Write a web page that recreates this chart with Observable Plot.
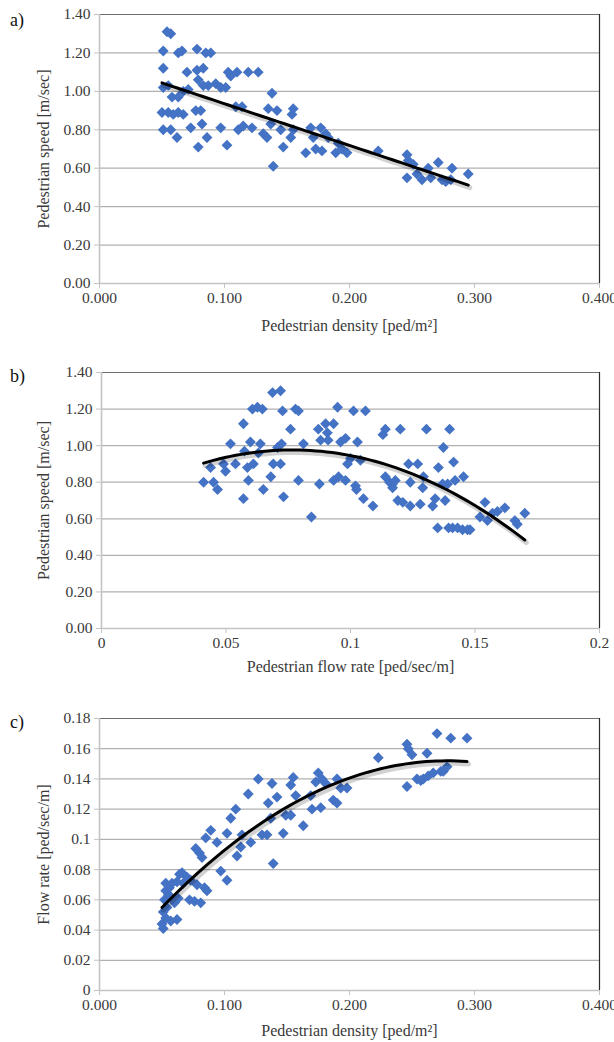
<!DOCTYPE html>
<html>
<head>
<meta charset="utf-8">
<script src="https://cdn.jsdelivr.net/npm/d3@7"></script>
<script src="https://cdn.jsdelivr.net/npm/@observablehq/plot@0.6"></script>
<style>
  html, body { margin: 0; padding: 0; background: #fff; }
  #wrap { position: relative; width: 614px; height: 1042px; overflow: hidden; font-family: "Liberation Serif", serif; }
  .panel { position: absolute; left: 0; width: 614px; }
  .tag { position: absolute; left: 10px; font-size: 18px; color: #111; font-family: "Liberation Serif", serif; }
  #wrap svg, #wrap svg text { font-family: "Liberation Serif", serif !important; }
</style>
</head>
<body>
<div id="wrap">
  <div class="panel" id="pa" style="top:0px"></div>
  <div class="panel" id="pb" style="top:345px"></div>
  <div class="panel" id="pc" style="top:690px"></div>
  <div class="tag" style="top:10px">a)</div>
  <div class="tag" style="top:366px">b)</div>
  <div class="tag" style="top:712px">c)</div>
</div>
<script>
// ---------- Panel a: density vs speed ----------
const densityA = [0.051,0.054,0.057,0.063,0.066,0.078,0.085,0.089,
  0.051,0.070,0.078,0.083,0.103,0.110,0.119,0.127,
  0.051,0.055,0.067,0.071,0.079,0.083,0.087,0.093,0.097,0.101,0.105,0.138,
  0.050,0.055,0.059,0.063,0.067,0.077,0.081,0.058,0.063,0.109,0.114,0.135,0.142,0.155,0.154,
  0.051,0.057,0.062,0.073,0.082,0.086,0.079,0.097,0.102,0.111,0.115,0.122,0.131,0.134,0.137,0.147,0.145,0.153,0.155,0.139,
  0.165,0.169,0.171,0.173,0.177,0.178,0.181,0.183,0.189,0.191,0.194,0.198,0.223,
  0.246,0.247,0.251,0.246,0.254,0.258,0.263,0.265,0.271,0.274,0.277,0.281,0.282,0.295];
const speedA = [1.21,1.31,1.30,1.20,1.21,1.22,1.20,1.20,
  1.12,1.10,1.11,1.12,1.10,1.10,1.10,1.10,
  1.02,1.03,1.00,1.01,1.06,1.03,1.03,1.04,1.02,1.02,1.08,0.99,
  0.89,0.89,0.88,0.89,0.88,0.90,0.90,0.97,0.97,0.92,0.92,0.91,0.90,0.91,0.88,
  0.80,0.80,0.76,0.81,0.83,0.76,0.71,0.81,0.72,0.80,0.82,0.81,0.78,0.76,0.83,0.71,0.80,0.76,0.80,0.61,
  0.68,0.81,0.76,0.70,0.81,0.69,0.78,0.76,0.68,0.73,0.70,0.68,0.69,
  0.67,0.64,0.62,0.55,0.57,0.54,0.60,0.55,0.63,0.54,0.53,0.54,0.60,0.57];

// ---------- Panel b: flow rate vs speed ----------
const flowB = [0.041,0.0438,0.045,0.0466,0.049,0.0498,0.0518,0.0538,0.057,0.057,0.0574,0.0586,0.059,0.0598,0.061,
  0.0606,0.0626,0.0646,0.0638,0.063,0.065,0.068,0.0687,0.0719,0.069,0.0719,0.0707,0.0723,0.0731,0.0727,
  0.0759,0.0779,0.0791,0.0791,0.0811,0.0843,0.0871,0.088,0.0875,0.090,0.0907,0.091,0.0932,0.0932,0.0948,
  0.0952,0.096,0.098,0.098,0.0988,0.100,0.1012,0.102,0.1024,0.1028,0.104,0.1052,0.106,0.109,0.113,
  0.114,0.114,0.1157,0.1169,0.1169,0.118,0.119,0.120,0.121,0.1233,0.124,0.124,0.127,0.128,0.129,
  0.1293,0.1305,0.133,0.134,0.135,0.1353,0.137,0.1373,0.138,0.139,0.1394,0.1398,0.141,0.1414,0.142,
  0.143,0.145,0.1454,0.147,0.148,0.152,0.154,0.155,0.157,0.159,0.162,0.166,0.167,0.170];
const speedB = [0.80,0.88,0.80,0.76,0.90,0.86,1.01,0.90,0.71,1.12,0.97,0.88,0.81,1.02,0.90,
  1.20,1.21,1.20,1.01,0.96,0.76,0.83,1.29,1.30,0.90,0.90,0.99,1.01,0.72,1.19,
  1.09,1.20,1.19,0.81,1.01,0.61,1.09,1.03,0.79,1.12,1.07,1.03,1.12,0.81,1.21,
  0.83,1.02,1.04,0.81,0.90,0.93,1.19,0.78,0.76,1.02,0.92,0.71,1.19,0.67,1.06,
  1.09,0.83,0.80,0.79,0.77,0.81,0.70,1.09,0.69,0.90,0.80,0.67,0.90,0.68,0.77,
  0.83,1.09,0.67,0.71,0.55,0.88,0.79,0.99,0.70,0.79,0.55,1.09,0.55,0.91,0.81,
  0.55,0.54,0.83,0.54,0.54,0.61,0.69,0.59,0.63,0.64,0.66,0.59,0.57,0.63];

// ---------- Panel c: density vs flow rate ----------
const densityC = [0.051,0.050,0.053,0.057,0.062,0.051,0.054,0.052,0.055,0.057,0.053,0.056,0.053,0.058,0.062,
  0.066,0.064,0.067,0.070,0.073,0.076,0.078,0.081,0.084,0.086,0.063,0.060,0.072,
  0.077,0.080,0.082,0.085,0.089,0.094,0.097,0.102,0.102,0.105,0.109,0.110,0.113,0.114,0.119,0.121,
  0.127,0.130,0.134,0.137,0.138,0.139,0.135,0.142,0.147,0.149,0.153,0.153,0.155,0.157,0.163,
  0.169,0.170,0.173,0.175,0.177,0.178,0.181,0.187,0.190,0.190,0.193,0.198,
  0.223,0.246,0.247,0.250,0.246,0.254,0.257,0.259,0.262,0.263,0.267,0.270,0.273,0.275,0.278,0.281,0.294];
const flowC = [0.041,0.044,0.048,0.046,0.047,0.052,0.055,0.060,0.063,0.062,0.066,0.068,0.071,0.071,0.072,
  0.078,0.077,0.071,0.075,0.073,0.059,0.070,0.058,0.068,0.066,0.061,0.058,0.060,
  0.094,0.091,0.088,0.101,0.106,0.098,0.079,0.073,0.104,0.114,0.120,0.089,0.095,0.103,0.130,0.098,
  0.140,0.103,0.103,0.114,0.137,0.084,0.124,0.128,0.104,0.116,0.116,0.136,0.141,0.129,0.109,
  0.129,0.120,0.138,0.144,0.121,0.140,0.137,0.126,0.124,0.140,0.134,0.134,
  0.154,0.163,0.160,0.156,0.135,0.140,0.139,0.140,0.157,0.142,0.144,0.170,0.145,0.145,0.148,0.167,0.167];

// ---------- Axis ticks and labels ----------
const densityTicks = [0, 0.1, 0.2, 0.3, 0.4];
const densityLabels = ["0.000", "0.100", "0.200", "0.300", "0.400"];
const flowTicks = [0, 0.05, 0.1, 0.15, 0.2];
const flowLabels = ["0", "0.05", "0.1", "0.15", "0.2"];
const speedTicks = [0, 0.2, 0.4, 0.6, 0.8, 1.0, 1.2, 1.4];
const speedLabels = ["0.00", "0.20", "0.40", "0.60", "0.80", "1.00", "1.20", "1.40"];
const flowYTicks = [0, 0.02, 0.04, 0.06, 0.08, 0.1, 0.12, 0.14, 0.16, 0.18];
const flowYLabels = ["0", "0.02", "0.04", "0.06", "0.08", "0.1", "0.12", "0.14", "0.16", "0.18"];

const titleDensity = "Pedestrian density [ped/m²]";
const titleSpeed = "Pedestrian speed [m/sec]";
const titleFlowX = "Pedestrian flow rate [ped/sec/m]";
const titleFlowY = "Flow rate [ped/sec/m]";

const FONT = "Liberation Serif";

// least-squares polynomial fit (trend line like the spreadsheet's)
function polyfit(xs, ys, deg) {
  const n = deg + 1;
  const A = Array.from({length: n}, () => new Array(n + 1).fill(0));
  for (let k = 0; k < xs.length; k++) {
    for (let i = 0; i < n; i++) {
      for (let j = 0; j < n; j++) A[i][j] += Math.pow(xs[k], i + j);
      A[i][n] += ys[k] * Math.pow(xs[k], i);
    }
  }
  for (let i = 0; i < n; i++) {
    let p = i;
    for (let r = i + 1; r < n; r++) if (Math.abs(A[r][i]) > Math.abs(A[p][i])) p = r;
    [A[i], A[p]] = [A[p], A[i]];
    for (let r = 0; r < n; r++) {
      if (r === i) continue;
      const f = A[r][i] / A[i][i];
      for (let c = i; c <= n; c++) A[r][c] -= f * A[i][c];
    }
  }
  return A.map((row, i) => row[n] / row[i]);
}
function trend(xs, ys, deg) {
  const coef = polyfit(xs, ys, deg);
  const [lo, hi] = d3.extent(xs);
  return d3.range(0, 61).map(i => {
    const x = lo + (hi - lo) * i / 60;
    return {x, y: coef.reduce((s, c, k) => s + c * Math.pow(x, k), 0)};
  });
}

const labelFmt = (ticks, labels) => d => labels[ticks.findIndex(t => Math.abs(t - d) < 1e-9)];

function panel({xs, ys, deg, xDomain, yDomain, xTicks, xLabels, yTicks, yLabels, xTitle, yTitle,
                height, marginTop, marginBottom, marginLeft, xTitleDy}) {
  const pts = xs.map((x, i) => ({x, y: ys[i]}));
  const fit = trend(xs, ys, deg);
  return Plot.plot({
    width: 614, height, marginTop, marginBottom, marginLeft, marginRight: 15,
    style: {fontFamily: FONT, fontSize: "15px", color: "#3a3a3a", background: "white", overflow: "visible"},
    x: {domain: xDomain},
    y: {domain: yDomain},
    marks: [
      Plot.ruleY(yTicks.slice(1, -1), {stroke: "#b0b0b0", strokeWidth: 1.2}),
      Plot.ruleY([yDomain[1]], {stroke: "#6e6e6e", strokeWidth: 1.2}),
      Plot.ruleX([xDomain[1]], {stroke: "#2b2b2b", strokeWidth: 1.2}),
      Plot.ruleX([xDomain[0]], {stroke: "#c4c4c4", strokeWidth: 1.6}),
      Plot.ruleY([yDomain[0]], {stroke: "#c4c4c4", strokeWidth: 1.6}),
      Plot.axisX(xTicks, {tickSize: 5, tickPadding: 3, stroke: "#c4c4c4", fill: "#3a3a3a", fontSize: 15.5, fontFamily: FONT,
                          tickFormat: labelFmt(xTicks, xLabels), label: null}),
      Plot.axisY(yTicks, {tickSize: 5, tickPadding: 4, stroke: "#c4c4c4", fill: "#3a3a3a", fontSize: 15.5, fontFamily: FONT,
                          tickFormat: labelFmt(yTicks, yLabels), label: null}),
      Plot.dot(pts, {x: "x", y: "y", symbol: "diamond2", r: 4.9, fill: "#4472c4", stroke: "none"}),
      Plot.line(fit, {x: "x", y: "y", stroke: "#000", strokeOpacity: 0.18, strokeWidth: 5, dx: 1.5, dy: 2.5}),
      Plot.line(fit, {x: "x", y: "y", stroke: "#000", strokeWidth: 3}),
      Plot.text([xTitle], {frameAnchor: "bottom", textAnchor: "middle", lineAnchor: "middle", dy: xTitleDy,
                           fontSize: 16, fontFamily: FONT, fill: "#3a3a3a"}),
      Plot.text([yTitle], {frameAnchor: "left", textAnchor: "middle", lineAnchor: "middle", dx: 43 - marginLeft, rotate: -90,
                           fontSize: 16, fontFamily: FONT, fill: "#3a3a3a"})
    ]
  });
}

document.getElementById("pa").appendChild(panel({
  xs: densityA, ys: speedA, deg: 1, xDomain: [0, 0.4], yDomain: [0, 1.4],
  xTicks: densityTicks, xLabels: densityLabels, yTicks: speedTicks, yLabels: speedLabels,
  xTitle: titleDensity, yTitle: titleSpeed,
  height: 345, marginTop: 14, marginBottom: 62, marginLeft: 99, xTitleDy: 42
}));
document.getElementById("pb").appendChild(panel({
  xs: flowB, ys: speedB, deg: 2, xDomain: [0, 0.2], yDomain: [0, 1.4],
  xTicks: flowTicks, xLabels: flowLabels, yTicks: speedTicks, yLabels: speedLabels,
  xTitle: titleFlowX, yTitle: titleSpeed,
  height: 345, marginTop: 27, marginBottom: 62, marginLeft: 101, xTitleDy: 38
}));
document.getElementById("pc").appendChild(panel({
  xs: densityC, ys: flowC, deg: 2, xDomain: [0, 0.4], yDomain: [0, 0.18],
  xTicks: densityTicks, xLabels: densityLabels, yTicks: flowYTicks, yLabels: flowYLabels,
  xTitle: titleDensity, yTitle: titleFlowY,
  height: 352, marginTop: 28, marginBottom: 52, marginLeft: 99, xTitleDy: 40
}));
</script>
</body>
</html>
